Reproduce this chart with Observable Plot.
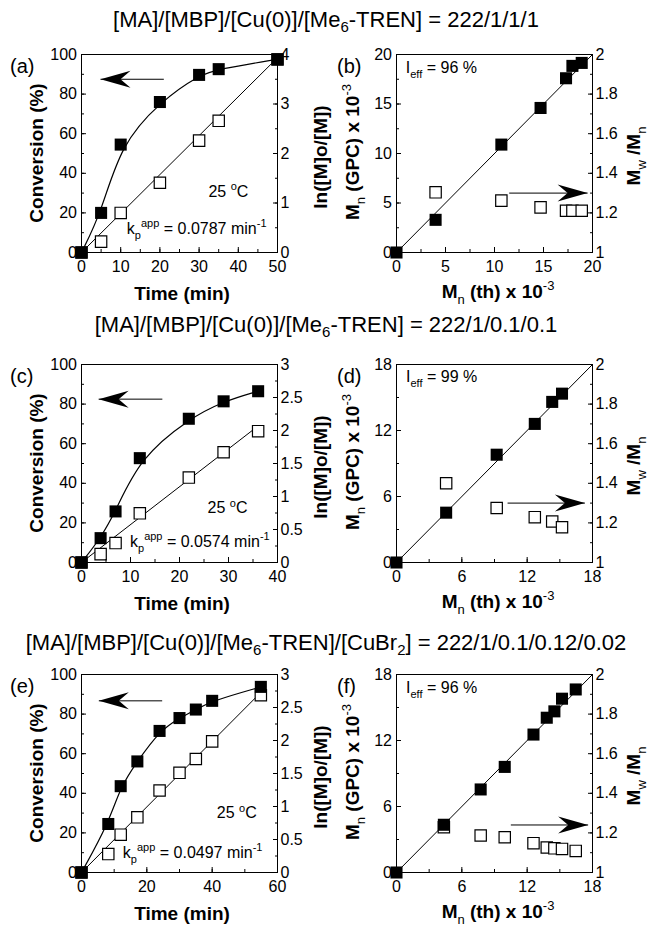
<!DOCTYPE html>
<html>
<head>
<meta charset="utf-8">
<script src="https://cdn.jsdelivr.net/npm/d3@7"></script>
<script src="https://cdn.jsdelivr.net/npm/@observablehq/plot@0.6"></script>
<style>
  body { margin: 0; background: #fff; }
  #fig { position: relative; width: 652px; height: 926px; background: #fff; overflow: hidden;
         font-family: "Liberation Sans", Arial, Helvetica, sans-serif; color: #000; }
  .title { position: absolute; left: 0; width: 652px; text-align: center; font-size: 22px;
           line-height: 26px; white-space: pre; }
  .title .sub { font-size: 15px; position: relative; top: 5px; }
  .panel { position: absolute; width: 326px; height: 270px; }
  .panel svg { position: absolute; left: 0; top: 0; overflow: visible; }
</style>
</head>
<body>
<div id="fig"></div>
<script>
// ---------------- DATA ----------------
// titles
const titleRow1 = [["[MA]/[MBP]/[Cu(0)]/[Me"], ["6", "sub"], ["-TREN] = 222/1/1/1"]];
const titleRow2 = [["[MA]/[MBP]/[Cu(0)]/[Me"], ["6", "sub"], ["-TREN] = 222/1/0.1/0.1"]];
const titleRow3 = [["[MA]/[MBP]/[Cu(0)]/[Me"], ["6", "sub"], ["-TREN]/[CuBr"], ["2", "sub"], ["] = 222/1/0.1/0.12/0.02"]];

// (a) kinetics
const timeA = [0, 5, 10, 20, 30, 35, 50];
const convA = [0, 20, 54.5, 76, 89.7, 92.6, 97.6];
const lnA   = [0, 0.22, 0.80, 1.41, 2.26, 2.66, 3.90];
const kpA = 0.0787;
const kpLabelA = "0.0787";
// (b) Mn / PDI
const mnThB  = [0, 3.99, 10.7, 14.7, 17.3, 17.95, 18.9];
const mnGpcB = [0, 3.3, 10.9, 14.6, 17.6, 18.85, 19.15];
const pdiThB = [3.99, 10.7, 14.7, 17.3, 17.95, 18.9];
const pdiB   = [1.304, 1.262, 1.228, 1.211, 1.211, 1.211];
const ieffB = "96";

// (c) kinetics
const timeC = [0, 3.9, 6.95, 11.9, 21.9, 29, 36.05];
const convC = [0, 12.3, 25.8, 52.7, 72.6, 81.4, 86.5];
const lnC   = [0, 0.127, 0.294, 0.745, 1.287, 1.67, 1.99];
const kpC = 0.0574;
const kpLabelC = "0.0574";
// (d) Mn / PDI
const mnThD  = [0, 4.56, 9.2, 12.7, 14.3, 15.2];
const mnGpcD = [0, 4.53, 9.8, 12.6, 14.6, 15.35];
const pdiThD = [4.56, 9.2, 12.7, 14.3, 15.2];
const pdiD   = [1.40, 1.275, 1.229, 1.207, 1.178];
const ieffD = "99";

// (e) kinetics
const timeE = [0, 8.2, 12, 17.1, 23.9, 30, 35, 40, 54.9];
const convE = [0, 24.5, 43.6, 56.1, 71.5, 78, 82.3, 86.7, 93.75];
const lnE   = [0, 0.279, 0.573, 0.836, 1.242, 1.51, 1.72, 1.987, 2.686];
const kpE = 0.0497;
const kpLabelE = "0.0497";
// (f) Mn / PDI
const mnThF  = [0, 4.35, 7.73, 9.94, 12.58, 13.8, 14.5, 15.2, 16.46];
const mnGpcF = [0, 4.34, 7.55, 9.6, 12.54, 14.07, 14.65, 15.8, 16.64];
const pdiThF = [4.35, 7.73, 9.94, 12.58, 13.8, 14.5, 15.2, 16.46];
const pdiF   = [1.229, 1.187, 1.178, 1.148, 1.126, 1.122, 1.119, 1.109];
const ieffF = "96";

// tick labels
const convTicks = [0, 20, 40, 60, 80, 100];
const ticksTimeA = [0, 10, 20, 30, 40, 50];
const ticksTimeC = [0, 10, 20, 30, 40];
const ticksTimeE = [0, 20, 40, 60];
const ticksLnA = [0, 1, 2, 3, 4];
const ticksLnCE = [0, 0.5, 1, 1.5, 2, 2.5, 3];
const ticksMnB = [0, 5, 10, 15, 20];
const ticksMnDF = [0, 6, 12, 18];
const ticksPdi = [1, 1.2, 1.4, 1.6, 1.8, 2];

// annotation anchors (data units)
const arrowA = {tail: 21, tip: 4.85, y: 87.5};
const arrowC = {tail: 16.5, tip: 3.5, y: 82.5};
const arrowE = {tail: 24.7, tip: 5.3, y: 86.7};
const arrowB = {tail: 11.5, tip: 19.5, y: 1.30};
const arrowD = {tail: 10.2, tip: 17.3, y: 1.30};
const arrowF = {tail: 10.5, tip: 17.6, y: 1.24};
const tempA = [37.6, 27.9], tempC = [29.9, 24.5], tempE = [47.7, 27.1];
const kpPosA = [11.7, 9.3], kpPosC = [10.0, 7.6], kpPosE = [12.8, 7.3];
const ieffPosB = [1.0, 18.07], ieffPosD = [0.92, 16.4], ieffPosF = [0.92, 16.3];

// ---------------- DRAWING ----------------
const FONT = '"Liberation Sans", Arial, Helvetica, sans-serif';
const W = 326, H = 270, MT = 14, MB = 58;
const LABEL = 19;
const fmt = d => String(d);
const blank = () => "";
const fig = document.getElementById("fig");

const arrowHead = {
  draw(ctx) {
    ctx.moveTo(0, 0);
    ctx.lineTo(30, -8.5);
    ctx.lineTo(20, 0);
    ctx.lineTo(30, 8.5);
    ctx.closePath();
  }
};

function addTitle(parts, top) {
  const d = document.createElement("div");
  d.className = "title";
  d.style.top = top + "px";
  for (const [s, mode] of parts) {
    const sp = document.createElement("span");
    sp.textContent = s;
    if (mode === "sub") sp.className = "sub";
    d.appendChild(sp);
  }
  fig.appendChild(d);
}

function addPanel(left, top) {
  const d = document.createElement("div");
  d.className = "panel";
  d.style.left = left + "px";
  d.style.top = top + "px";
  fig.appendChild(d);
  return d;
}

function rich(svg, parts, {x, y, anchor = "start", rotate = 0, size = 16, weight = "normal"}) {
  const t = d3.select(svg).append("text")
    .attr("transform", `translate(${x},${y})` + (rotate ? ` rotate(${rotate})` : ""))
    .attr("text-anchor", anchor)
    .attr("font-size", size)
    .attr("font-weight", weight)
    .attr("font-family", FONT)
    .attr("fill", "black")
    .style("white-space", "pre");
  let cur = 0;
  for (const [s, mode, w] of parts) {
    const target = mode === "sub" ? size * 0.33 : mode === "sup" ? -size * 0.42 : 0;
    const ts = t.append("tspan").text(s).attr("dy", target - cur);
    if (mode) ts.attr("font-size", Math.round(size * 0.68));
    if (w) ts.attr("font-weight", w);
    cur = target;
  }
  return t;
}

function buildPlot({ml, mr, xDomain, yDomain, xTicks, xMinor, yTicks, yMinor, anchor, withFrame, marks}) {
  const m = [];
  if (withFrame) {
    m.push(Plot.frame({stroke: "black", strokeWidth: 1}));
    m.push(Plot.axisX({ticks: xMinor, tickSize: -3, tickFormat: blank, label: null}));
    m.push(Plot.axisX({ticks: xTicks, tickSize: -5, tickPadding: 13, tickFormat: fmt, label: null}));
  }
  m.push(Plot.axisY({anchor, ticks: yMinor, tickSize: -3, tickFormat: blank, label: null}));
  m.push(Plot.axisY({anchor, ticks: yTicks, tickSize: -5, tickPadding: anchor === "left" ? 9.5 : 8, tickFormat: fmt, label: null}));
  return Plot.plot({
    width: W, height: H, marginTop: MT, marginBottom: MB, marginLeft: ml, marginRight: mr,
    x: {domain: xDomain, axis: null},
    y: {domain: yDomain, axis: null},
    style: `background:transparent;color:black;font-family:${FONT};font-size:16px;overflow:visible;`,
    marks: [...m, ...marks]
  });
}

function kineticsPanel({top, letter, time, conv, ln, kp, kpLabel, tMax, xTicks, xStep, y2Max, y2Ticks, y2Step, arrow, temp, kpPos}) {
  const div = addPanel(0, top);
  const convData = time.map((t, i) => ({t, v: conv[i]}));
  const lnData = time.map((t, i) => ({t, v: ln[i]}));
  const fit = [0, time[time.length - 1]].map(t => ({t, v: kp * t}));
  const rightP = buildPlot({
    ml: 81, mr: 49, xDomain: [0, tMax], yDomain: [0, y2Max],
    yTicks: y2Ticks, yMinor: d3.range(0, y2Max + 1e-9, y2Step), anchor: "right", withFrame: false,
    marks: [
      Plot.line(fit, {x: "t", y: "v", stroke: "black", strokeWidth: 1}),
      Plot.dot(lnData, {x: "t", y: "v", symbol: "square", r: 6.4, fill: "white", stroke: "black", strokeWidth: 1.2})
    ]
  });
  const leftP = buildPlot({
    ml: 81, mr: 49, xDomain: [0, tMax], yDomain: [0, 100],
    xTicks, xMinor: d3.range(0, tMax + 1e-9, xStep),
    yTicks: convTicks, yMinor: d3.range(0, 100.1, 10), anchor: "left", withFrame: true,
    marks: [
      Plot.line(convData, {x: "t", y: "v", curve: "basis", stroke: "black", strokeWidth: 1.2}),
      Plot.dot(convData, {x: "t", y: "v", symbol: "square", r: 6.8, fill: "black"}),
      Plot.link([arrow], {x1: "tail", x2: "tip", y1: "y", y2: "y", stroke: "black", strokeWidth: 1}),
      Plot.dot([arrow], {x: "tip", y: "y", symbol: arrowHead, r: 1, fill: "black", stroke: "none"})
    ]
  });
  div.append(rightP, leftP);
  const sx = leftP.scale("x"), sy = leftP.scale("y");
  rich(leftP, [["25 "], ["o", "sup"], ["C"]], {x: sx.apply(temp[0]), y: sy.apply(temp[1]), anchor: "middle"});
  rich(leftP, [["k"], ["p", "sub"], ["app", "sup"], [" = " + kpLabel + " min"], ["-1", "sup"]],
       {x: sx.apply(kpPos[0]), y: sy.apply(kpPos[1])});
  rich(leftP, [["Time (min)"]], {x: 182, y: 260, anchor: "middle", size: LABEL, weight: "bold"});
  rich(leftP, [["Conversion (%)"]], {x: 43, y: 113, anchor: "middle", size: LABEL, weight: "bold", rotate: -90});
  rich(leftP, [["ln([M]o/[M])"]], {x: 327, y: 117, anchor: "middle", size: LABEL, weight: "bold", rotate: -90});
  rich(leftP, [[letter]], {x: 10, y: 33, size: 20});
}

function mnPanel({top, letter, mnTh, mnGpc, pdiTh, pdi, xMax, xTicks, step, arrow, ieff, ieffPos}) {
  const div = addPanel(326, top);
  const mnData = mnTh.map((x, i) => ({x, v: mnGpc[i]}));
  const pdiData = pdiTh.map((x, i) => ({x, v: pdi[i]}));
  const ideal = [0, xMax];
  const rightP = buildPlot({
    ml: 70, mr: 60, xDomain: [0, xMax], yDomain: [1, 2],
    yTicks: ticksPdi, yMinor: d3.range(1, 2 + 1e-9, 0.1), anchor: "right", withFrame: false,
    marks: [
      Plot.dot(pdiData, {x: "x", y: "v", symbol: "square", r: 6.4, fill: "white", stroke: "black", strokeWidth: 1.2}),
      Plot.link([arrow], {x1: "tail", x2: "tip", y1: "y", y2: "y", stroke: "black", strokeWidth: 1}),
      Plot.dot([arrow], {x: "tip", y: "y", symbol: arrowHead, r: 1, fill: "black", stroke: "none", rotate: 180})
    ]
  });
  const leftP = buildPlot({
    ml: 70, mr: 60, xDomain: [0, xMax], yDomain: [0, xMax],
    xTicks, xMinor: d3.range(0, xMax + 1e-9, step),
    yTicks: xTicks, yMinor: d3.range(0, xMax + 1e-9, step), anchor: "left", withFrame: true,
    marks: [
      Plot.line(ideal, {x: d => d, y: d => d, stroke: "black", strokeWidth: 1}),
      Plot.dot(mnData, {x: "x", y: "v", symbol: "square", r: 6.8, fill: "black"})
    ]
  });
  div.append(rightP, leftP);
  const sx = leftP.scale("x"), sy = leftP.scale("y");
  rich(leftP, [["I"], ["eff", "sub"], [" = " + ieff + " %"]], {x: sx.apply(ieffPos[0]), y: sy.apply(ieffPos[1])});
  rich(leftP, [["M"], ["n", "sub", "normal"], [" (th) x 10"], ["-3", "sup", "normal"]],
       {x: 172, y: 258, anchor: "middle", size: LABEL, weight: "bold"});
  rich(leftP, [["M"], ["n", "sub", "normal"], [" (GPC) x 10"], ["-3", "sup", "normal"]],
       {x: 33, y: 112, anchor: "middle", size: LABEL, weight: "bold", rotate: -90});
  rich(leftP, [["M"], ["w", "sub", "normal"], [" /M"], ["n", "sub", "normal"]],
       {x: 314, y: 116, anchor: "middle", size: LABEL, weight: "bold", rotate: -90});
  rich(leftP, [[letter]], {x: 11, y: 33, size: 20});
}

addTitle(titleRow1, 7);
addTitle(titleRow2, 312);
addTitle(titleRow3, 630);

kineticsPanel({top: 40, letter: "(a)", time: timeA, conv: convA, ln: lnA, kp: kpA, kpLabel: kpLabelA,
  tMax: 50, xTicks: ticksTimeA, xStep: 5, y2Max: 4, y2Ticks: ticksLnA, y2Step: 0.5,
  arrow: arrowA, temp: tempA, kpPos: kpPosA});
mnPanel({top: 40, letter: "(b)", mnTh: mnThB, mnGpc: mnGpcB, pdiTh: pdiThB, pdi: pdiB,
  xMax: 20, xTicks: ticksMnB, step: 2.5, arrow: arrowB, ieff: ieffB, ieffPos: ieffPosB});

kineticsPanel({top: 350, letter: "(c)", time: timeC, conv: convC, ln: lnC, kp: kpC, kpLabel: kpLabelC,
  tMax: 40, xTicks: ticksTimeC, xStep: 5, y2Max: 3, y2Ticks: ticksLnCE, y2Step: 0.25,
  arrow: arrowC, temp: tempC, kpPos: kpPosC});
mnPanel({top: 350, letter: "(d)", mnTh: mnThD, mnGpc: mnGpcD, pdiTh: pdiThD, pdi: pdiD,
  xMax: 18, xTicks: ticksMnDF, step: 3, arrow: arrowD, ieff: ieffD, ieffPos: ieffPosD});

kineticsPanel({top: 660, letter: "(e)", time: timeE, conv: convE, ln: lnE, kp: kpE, kpLabel: kpLabelE,
  tMax: 60, xTicks: ticksTimeE, xStep: 10, y2Max: 3, y2Ticks: ticksLnCE, y2Step: 0.25,
  arrow: arrowE, temp: tempE, kpPos: kpPosE});
mnPanel({top: 660, letter: "(f)", mnTh: mnThF, mnGpc: mnGpcF, pdiTh: pdiThF, pdi: pdiF,
  xMax: 18, xTicks: ticksMnDF, step: 3, arrow: arrowF, ieff: ieffF, ieffPos: ieffPosF});
</script>
</body>
</html>
